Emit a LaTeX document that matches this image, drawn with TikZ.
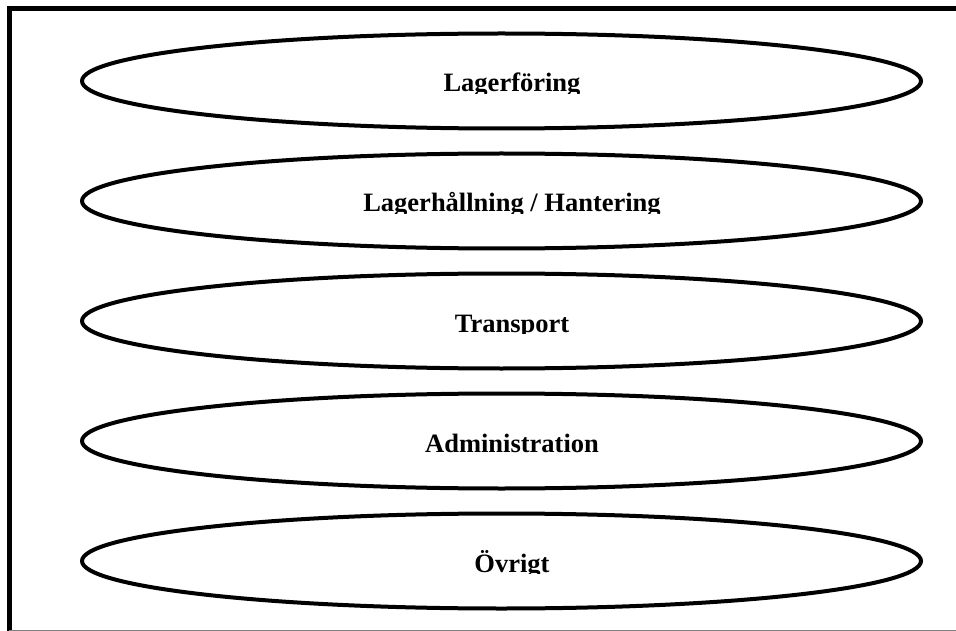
\documentclass[tikz,border=0pt]{standalone}
\usepackage{fontspec}
\setmainfont{Liberation Serif}
\usetikzlibrary{shapes.geometric}
\begin{document}
\begin{tikzpicture}[x=1pt,y=-1pt,
  frame/.style={line width=5pt},
  oval/.style={ellipse,draw,line width=4pt,minimum width=839pt,minimum height=95pt,inner sep=0pt},
  caption/.style={font=\fontsize{26.5}{30}\selectfont\bfseries,inner sep=0pt,anchor=base}]
\useasboundingbox (0,0) rectangle (956,631);
% outer frame, open to the right
\draw[frame] (1000,9) -- (9,9) -- (9,640);
\draw[gray,line width=1.2pt] (9,630.4) -- (960,630.4);
% stacked categories; each label is cut off just below its baseline
\foreach \name/\txt/\cy in {lager/{Lagerföring}/81,
    hantering/{Lagerhållning / Hantering}/201,
    transport/{Transport}/321,
    admin/{Administration}/441,
    ovrigt/{Övrigt}/561}{
  \node[oval] (\name) at (501.5,\cy) {};
  \begin{scope}
    \clip (100,\cy-40) rectangle (900,\cy+12.5);
    \node[caption] (\name-txt) at (512,\cy+11) {\txt};
  \end{scope}
}
\end{tikzpicture}
\end{document}
